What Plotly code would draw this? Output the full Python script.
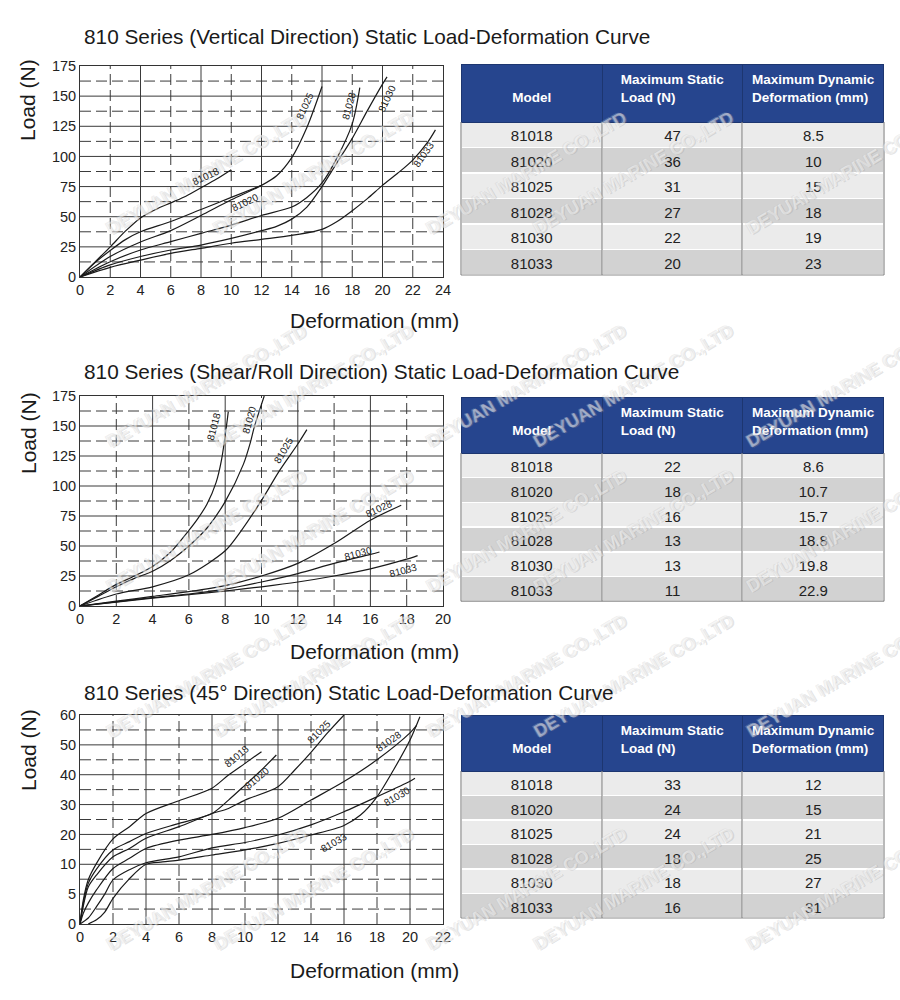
import plotly.graph_objects as go

# ---------------- data ----------------
models = ["81018", "81020", "81025", "81028", "81030", "81033"]

# Vertical direction (x: deformation mm, y: load N)
v_81018_x = [0, 1, 2, 3, 4, 5, 6, 7, 8, 9, 10]
v_81018_y = [0, 12.5, 25, 38, 49, 56, 61.5, 67, 74, 81, 89]
v_81020_x = [0, 1, 2, 3, 4, 6, 8, 10, 12]
v_81020_y = [0, 12, 22, 31, 37.5, 46, 56, 66, 76]
v_81025_x = [0, 2, 4, 6, 8, 10, 12, 13, 14, 15, 16]
v_81025_y = [0, 17, 29, 38.5, 51, 64, 76, 84, 99, 124, 158]
v_81028_x = [0, 2, 4, 6, 8, 10, 12, 14, 15, 16, 17, 18, 18.5]
v_81028_y = [0, 12.7, 22.4, 29.3, 36.2, 43, 51, 58, 66, 78, 99, 127, 157]
v_81030_x = [0, 2, 4, 6, 8, 10, 12, 13, 14, 15, 16, 17, 18, 19, 20, 20.3]
v_81030_y = [0, 10, 17, 22.4, 26.5, 32, 38.4, 42, 48, 58, 75, 95, 115, 138, 160, 166]
v_81033_x = [0, 2, 4, 6, 8, 10, 12, 14, 16, 17, 18, 19, 20, 21, 22, 23, 23.5]
v_81033_y = [0, 8, 14, 19.6, 23.8, 28, 31.2, 34.5, 39.5, 46, 55, 65, 76, 86, 97, 112, 122]

# Shear/Roll direction
s_81018_x = [0, 1, 2, 3, 4, 5, 6, 6.5, 7, 7.5, 7.8, 8.0, 8.17]
s_81018_y = [0, 9, 18, 25, 33, 45, 63, 73, 85, 103, 122, 142, 162]
s_81020_x = [0, 1, 2, 3, 4, 5, 6, 7, 8, 9, 9.4, 9.6, 10.15]
s_81020_y = [0, 8, 16, 23, 29, 38, 50, 65, 87, 118, 137, 149, 175]
s_81025_x = [0, 2, 4, 6, 8, 8.8, 10, 11, 12, 12.5]
s_81025_y = [0, 10, 16, 26, 46, 61, 88, 113, 135, 147]
s_81028_x = [0, 2, 4, 6, 8, 10, 12, 14, 16, 17.7]
s_81028_y = [0, 4, 8, 12, 17, 25, 35.5, 52, 71.5, 84]
s_81030_x = [0, 2, 4, 6, 8, 10, 12, 14, 16, 16.5]
s_81030_y = [0, 3.5, 7, 10, 14, 20, 27, 35.5, 43, 45]
s_81033_x = [0, 2, 4, 6, 8, 10, 12, 14, 16, 18, 18.6]
s_81033_y = [0, 3.2, 6.5, 9.5, 12.5, 16, 20, 25, 31, 39, 42]

# 45 degree direction
d_81018_x = [0, 0.2, 0.5, 1, 2, 3, 4, 6, 8, 9, 10, 11]
d_81018_y = [0, 4, 7.4, 10.3, 18.5, 22.6, 27, 31.3, 35.5, 39.9, 43.8, 47.7]
d_81020_x = [0, 0.2, 0.5, 1, 2, 3, 4, 6, 8, 9, 10, 11, 11.9]
d_81020_y = [0, 3.5, 6.8, 9.2, 14.8, 17.6, 20.3, 23.7, 27, 31.5, 36.5, 41.6, 46.6]
d_81025_x = [0, 0.2, 0.5, 1, 2, 3, 4, 6, 8, 9, 10, 12, 13, 14, 15, 16]
d_81025_y = [0, 3, 6.2, 8.2, 12.5, 15.3, 18.7, 22.6, 27, 28.7, 31.5, 36, 41.5, 47.5, 54, 60]
d_81028_x = [0, 0.2, 0.5, 1, 2, 3, 4, 6, 8, 10, 12, 14, 16, 18, 20, 20.4]
d_81028_y = [0, 1.8, 3.5, 5.7, 9.3, 12, 15.3, 18.1, 20, 22.3, 25.4, 31.5, 37.7, 45, 54, 56.5]
d_81030_x = [0, 0.5, 1, 1.5, 2, 3, 4, 6, 8, 10, 12, 14, 16, 18, 20, 20.3]
d_81030_y = [0, 1, 2.9, 5, 7.4, 9.1, 10.5, 12.5, 15.5, 17.3, 19.8, 23.2, 27.6, 32.6, 37.8, 38.8]
d_81033_x = [0.5, 1, 1.5, 2, 3, 4, 5, 6, 8, 10, 12, 14, 16, 17, 18, 19, 20, 20.6]
d_81033_y = [0, 0.7, 2, 4.3, 7.6, 10, 10.8, 11.4, 13.1, 14.8, 17, 19.8, 23, 26.5, 32.6, 41.6, 51.6, 59.4]

# tick labels
vert_x_ticks = list(range(0, 25, 2))
vert_y_ticks = list(range(0, 176, 25))
shear_x_ticks = list(range(0, 21, 2))
shear_y_ticks = list(range(0, 176, 25))
diag_x_ticks = list(range(0, 23, 2))
diag_y_ticks = [0, 5, 10, 20, 30, 40, 50, 60]

# table values
vert_static_load = ["47", "36", "31", "27", "22", "20"]
vert_dyn_def = ["8.5", "10", "15", "18", "19", "23"]
shear_static_load = ["22", "18", "16", "13", "13", "11"]
shear_dyn_def = ["8.6", "10.7", "15.7", "18.8", "19.8", "22.9"]
diag_static_load = ["33", "24", "24", "18", "18", "16"]
diag_dyn_def = ["12", "15", "21", "25", "27", "31"]

titles = [
    "810 Series (Vertical Direction) Static Load-Deformation Curve",
    "810 Series (Shear/Roll Direction) Static Load-Deformation Curve",
    "810 Series (45° Direction) Static Load-Deformation Curve",
]
header_texts = ["\u00a0<br>Model", "Maximum Static<br>Load (N)", "Maximum Dynamic<br>Deformation (mm)"]

# ---------------- helpers ----------------
W, H = 900, 1000
FONT = "Liberation Sans, Arial, sans-serif"
LINE = "#1a1a1a"
GRID = "#3a3a3a"
DASH = "11px,5px"


def px(x):
    return x / W


def py(y):
    return 1 - y / H


def band(v):
    # 45 deg chart: 0-10 spans two bands of 5, above that bands of 10
    return v / 5.0 if v <= 10 else 2 + (v - 10) / 10.0


fig = go.Figure()

vert = [(v_81018_x, v_81018_y), (v_81020_x, v_81020_y), (v_81025_x, v_81025_y),
        (v_81028_x, v_81028_y), (v_81030_x, v_81030_y), (v_81033_x, v_81033_y)]
shear = [(s_81018_x, s_81018_y), (s_81020_x, s_81020_y), (s_81025_x, s_81025_y),
         (s_81028_x, s_81028_y), (s_81030_x, s_81030_y), (s_81033_x, s_81033_y)]
diag = [(d_81018_x, d_81018_y), (d_81020_x, d_81020_y), (d_81025_x, d_81025_y),
        (d_81028_x, d_81028_y), (d_81030_x, d_81030_y), (d_81033_x, d_81033_y)]

curve_line = dict(color=LINE, width=1.2, shape="spline", smoothing=0.8)
for name, (xs, ys) in zip(models, vert):
    fig.add_trace(go.Scatter(x=xs, y=ys, mode="lines", name=name, xaxis="x", yaxis="y",
                             line=curve_line, showlegend=False))
for name, (xs, ys) in zip(models, shear):
    fig.add_trace(go.Scatter(x=xs, y=ys, mode="lines", name=name, xaxis="x2", yaxis="y2",
                             line=curve_line, showlegend=False))
for name, (xs, ys) in zip(models, diag):
    fig.add_trace(go.Scatter(x=xs, y=[band(v) for v in ys], mode="lines", name=name,
                             xaxis="x3", yaxis="y3", line=curve_line, showlegend=False))

# ---------------- axes ----------------
xdom = [px(80), px(443)]
ydoms = [[py(277), py(66)], [py(606), py(396)], [py(924), py(715)]]
axis_common = dict(showgrid=False, zeroline=False, showline=True, mirror=True,
                   linecolor="#333", linewidth=1, ticks="", automargin=False,
                   tickfont=dict(family=FONT, size=14.5, color="#222"))

fig.update_layout(
    xaxis=dict(domain=xdom, range=[0, 24], tickvals=vert_x_ticks, anchor="y", **axis_common),
    yaxis=dict(domain=ydoms[0], range=[0, 175], tickvals=vert_y_ticks, anchor="x", **axis_common),
    xaxis2=dict(domain=xdom, range=[0, 20], tickvals=shear_x_ticks, anchor="y2", **axis_common),
    yaxis2=dict(domain=ydoms[1], range=[0, 175], tickvals=shear_y_ticks, anchor="x2", **axis_common),
    xaxis3=dict(domain=xdom, range=[0, 22], tickvals=diag_x_ticks, anchor="y3", **axis_common),
    yaxis3=dict(domain=ydoms[2], range=[0, 7], tickvals=[band(v) for v in diag_y_ticks],
                ticktext=[str(v) for v in diag_y_ticks], anchor="x3", **axis_common),
)

# ---------------- grids ----------------
shapes = []


def vgrid(xref, yref, values):
    for g in values:
        shapes.append(dict(type="line", xref=xref, yref=yref + " domain", x0=g, x1=g, y0=0, y1=1,
                           line=dict(color=GRID, width=1, dash="solid" if g % 4 == 0 else DASH),
                           layer="below"))


def hgrid(xref, yref, values, solid_test):
    for g in values:
        shapes.append(dict(type="line", xref=xref + " domain", yref=yref, x0=0, x1=1, y0=g, y1=g,
                           line=dict(color=GRID, width=1, dash="solid" if solid_test(g) else DASH),
                           layer="below"))


vgrid("x", "y", range(2, 24, 2))
hgrid("x", "y", [12.5 * k for k in range(1, 14)], lambda g: g % 25 == 0)
vgrid("x2", "y2", range(2, 20, 2))
hgrid("x2", "y2", [12.5 * k for k in range(1, 14)], lambda g: g % 25 == 0)
vgrid("x3", "y3", range(2, 22, 2))
hgrid("x3", "y3", [0.5 * k for k in range(1, 14)], lambda g: g % 1 == 0)

# ---------------- annotations ----------------
ann = []

# watermarks (drawn first so other texts sit above them)
for j in range(5):
    for i in range(5):
        ann.append(dict(text="DEYUAN MARINE CO.,LTD", x=px(101 + 213 * i), y=py(105 + 213 * j),
                        xref="paper", yref="paper", textangle=-30, showarrow=False,
                        font=dict(family=FONT, size=18, weight="bold", color="rgba(255,255,255,0.45)",
                                  shadow="1px 1px 0px rgba(150,150,150,0.6), -1px -1px 0px rgba(195,195,195,0.6)")))

title_y = [36, 371, 692]
load_y = [100, 433, 750]
def_y = [321, 651, 970]
for t, ty, ly, dy in zip(titles, title_y, load_y, def_y):
    ann.append(dict(text=t, x=px(82), y=py(ty), xref="paper", yref="paper", xanchor="left",
                    yanchor="middle", showarrow=False, font=dict(family=FONT, size=20.8, color="#1a1a1a")))
    ann.append(dict(text="Load (N)", x=px(28), y=py(ly), xref="paper", yref="paper", textangle=-90,
                    xanchor="center", yanchor="middle", showarrow=False,
                    font=dict(family=FONT, size=21, color="#1a1a1a")))
    ann.append(dict(text="Deformation (mm)", x=px(374), y=py(dy), xref="paper", yref="paper",
                    xanchor="center", yanchor="middle", showarrow=False,
                    font=dict(family=FONT, size=21, color="#1a1a1a")))

# curve labels: (x, y, angle)
vert_lbl = [(8.3, 83, -25), (10.9, 62, -25), (14.9, 142, -65), (17.8, 142, -75), (20.3, 148, -65), (22.7, 102, -55)]
shear_lbl = [(7.35, 150, -75), (9.3, 155, -75), (11.2, 130, -60), (16.5, 81, -25), (15.3, 44, -15), (17.8, 30, -15)]
diag_lbl = [(9.5, 46, -40), (10.7, 38.8, -40), (14.5, 54.4, -45), (18.7, 51, -35), (19.2, 32.6, -30), (15.4, 17.2, -30)]
for lbls, xr, yr, tf in [(vert_lbl, "x", "y", lambda v: v), (shear_lbl, "x2", "y2", lambda v: v),
                         (diag_lbl, "x3", "y3", band)]:
    for name, (lx, ly, ang) in zip(models, lbls):
        ann.append(dict(text=name, x=lx, y=tf(ly), xref=xr, yref=yr, textangle=ang, showarrow=False,
                        font=dict(family=FONT, size=10, color="#222")))

# ---------------- tables ----------------
tables = [
    (vert_static_load, vert_dyn_def, 64, 58, 25.5),
    (shear_static_load, shear_dyn_def, 397, 56, 24.7),
    (diag_static_load, diag_dyn_def, 715, 56, 24.5),
]
row_fill = ["#ebebeb" if k % 2 == 0 else "#d2d2d2" for k in range(6)]
for loads, defs, top, hh, ch in tables:
    bottom = top + hh + 6 * ch
    fig.add_trace(go.Table(
        domain=dict(x=[px(461), px(884)], y=[py(bottom + 12), py(top)]),
        columnwidth=[141, 140, 141],
        header=dict(values=header_texts, height=hh,
                    fill_color="#26458e", line=dict(color="#1d3670", width=1), align="center",
                    font=dict(family=FONT, size=13.5, color="white", weight="bold")),
        cells=dict(values=[models, loads, defs], height=ch, align="center",
                   fill_color=[row_fill] * 3, line=dict(color="#ffffff", width=1.5),
                   font=dict(family=FONT, size=15, color="#222")),
    ))
    for xv in [461, 602, 742, 884]:
        shapes.append(dict(type="line", xref="paper", yref="paper", x0=px(xv), x1=px(xv),
                           y0=py(top + hh), y1=py(bottom), line=dict(color="#8a8a8a", width=1.2),
                           layer="above"))
    shapes.append(dict(type="line", xref="paper", yref="paper", x0=px(461), x1=px(884),
                       y0=py(bottom), y1=py(bottom), line=dict(color="#8a8a8a", width=1.2), layer="above"))

fig.update_layout(
    width=W, height=H, margin=dict(l=0, r=0, t=0, b=0, autoexpand=False),
    paper_bgcolor="white", plot_bgcolor="white",
    shapes=shapes, annotations=ann, showlegend=False,
    font=dict(family=FONT),
)

# remove the default 8px page margin so the 900x1000 figure fills the window exactly
fig.write_html("out.html", config={"displayModeBar": False},
               post_script="document.body.style.margin='0';document.body.style.overflow='hidden';")
